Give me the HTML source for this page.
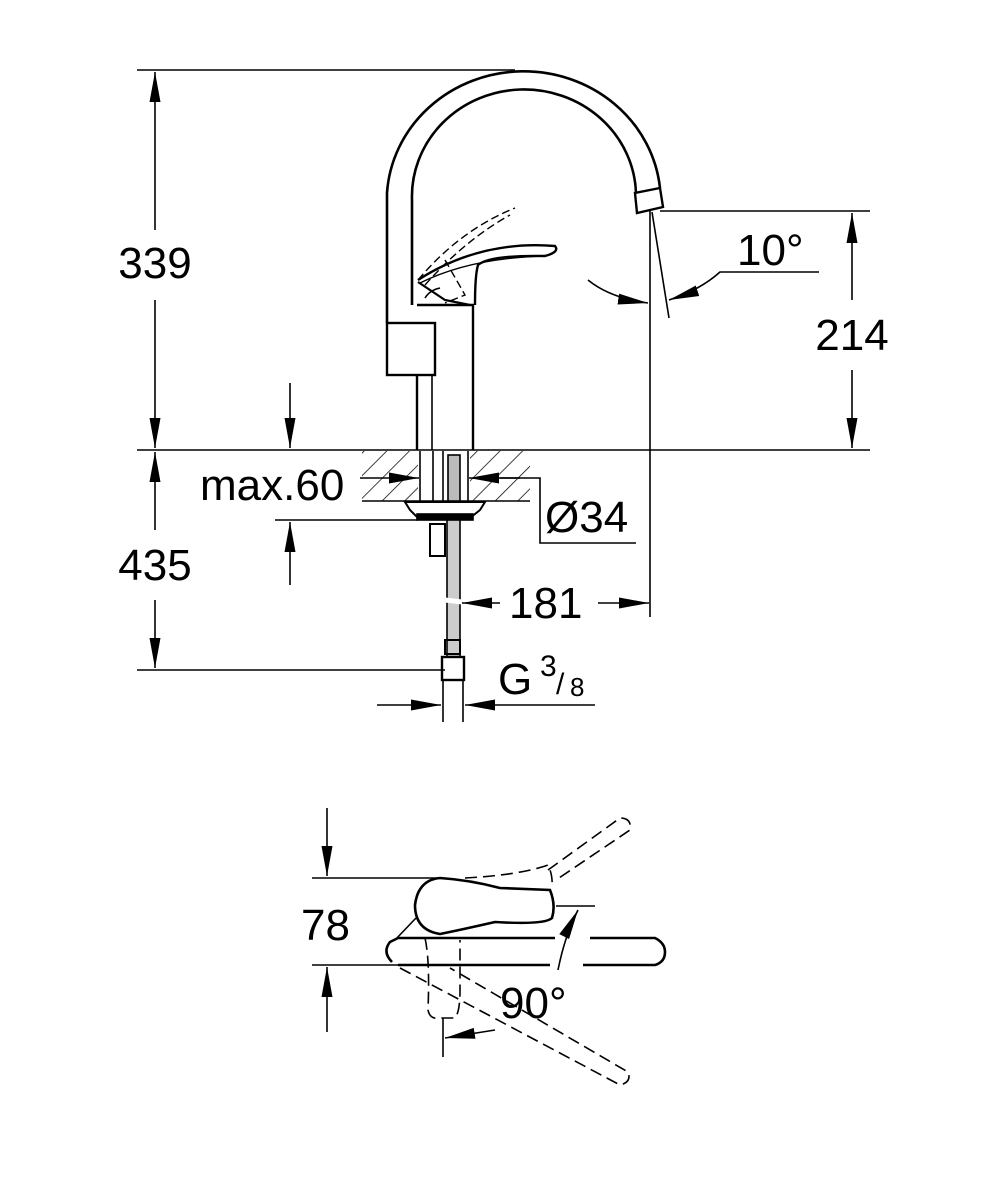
<!DOCTYPE html>
<html><head><meta charset="utf-8"><style>
html,body{margin:0;padding:0;background:#fff}
svg{display:block}
text{font-family:"Liberation Sans",sans-serif;fill:#000}
</style></head><body>
<svg width="1001" height="1200" viewBox="0 0 1001 1200" xmlns="http://www.w3.org/2000/svg">
<defs>
<marker id="a" markerWidth="32" markerHeight="12" refX="0" refY="0" orient="auto" viewBox="-30 -6 32 12" markerUnits="userSpaceOnUse"><path d="M0,0 L-30,-5.5 L-30,5.5 Z" fill="#000"/></marker>
<pattern id="h" width="16" height="16" patternUnits="userSpaceOnUse" patternTransform="rotate(45)"><line x1="0" y1="0" x2="0" y2="16" stroke="#000" stroke-width="1.5"/></pattern>
</defs>
<g fill="none" stroke="#000" stroke-width="1.6">
<line x1="137" y1="70" x2="515" y2="70"/>
<line x1="137" y1="450" x2="870" y2="450"/>
<line x1="137" y1="670" x2="445" y2="670"/>
<line x1="155" y1="230" x2="155" y2="72" marker-end="url(#a)"/>
<line x1="155" y1="300" x2="155" y2="448" marker-end="url(#a)"/>
<line x1="155" y1="530" x2="155" y2="452" marker-end="url(#a)"/>
<line x1="155" y1="600" x2="155" y2="668" marker-end="url(#a)"/>
<rect x="362" y="451" width="56" height="50" fill="url(#h)" stroke="none"/>
<rect x="470" y="451" width="60" height="50" fill="url(#h)" stroke="none"/>
<line x1="362" y1="501" x2="530" y2="501"/>
<path d="M387,323 L387,193 A137,130 0 0 1 660,188" stroke-width="2.6"/>
<path d="M412,305 L412,200 A112,107 0 0 1 636,193" stroke-width="2.6"/>
<path d="M635,193 L660,188 L663,207 L637,213 Z" stroke-width="2.4"/>
<rect x="387" y="323" width="48" height="52" stroke-width="2.4"/>
<line x1="417" y1="375" x2="417" y2="450" stroke-width="2.4"/>
<line x1="432" y1="375" x2="432" y2="450" stroke-width="1.6"/>
<path d="M417,305 L473,305 L473,450" stroke-width="2.4"/>
<path d="M418,280 Q480,240 555,246 Q560,252 545,256 Q490,255 478,265 Q475,275 475,305" stroke-width="2.4"/>
<path d="M420,283 Q470,258 545,256" stroke-width="1.4"/>
<path d="M418,282 L445,300 L470,305" stroke-width="2.2"/>
<path d="M425,298 Q430,290 440,288" stroke-width="1.6"/>
<path d="M418,280 Q460,230 515,208 M425,285 Q465,240 510,215 M445,260 L465,295 L445,303" stroke-width="1.4" stroke-dasharray="8,4"/>
<line x1="420" y1="451" x2="420" y2="501"/>
<line x1="468" y1="451" x2="468" y2="501"/>
<line x1="433" y1="451" x2="433" y2="501"/>
<line x1="443" y1="451" x2="443" y2="501"/>
<rect x="448" y="455" width="12" height="46" fill="#bbb"/>
<path d="M405,502 L485,502 L480,510 L470,518 L418,518 L410,510 Z" stroke-width="2"/>
<rect x="417" y="514" width="56" height="6" fill="#000"/>
<rect x="430" y="524" width="15" height="32" stroke-width="2"/>
<rect x="447" y="520" width="13" height="137" fill="#ccc" stroke-width="1.6"/>
<line x1="445" y1="600" x2="462" y2="602" stroke="#fff" stroke-width="5"/>
<rect x="445" y="640" width="15" height="14" stroke-width="2"/>
<rect x="442" y="657" width="22" height="23" stroke-width="2.4"/>
<line x1="443" y1="680" x2="443" y2="722"/>
<line x1="463" y1="680" x2="463" y2="722"/>
<line x1="290" y1="383" x2="290" y2="448" marker-end="url(#a)"/>
<line x1="290" y1="585" x2="290" y2="522" marker-end="url(#a)"/>
<line x1="275" y1="520" x2="418" y2="520"/>
<line x1="360" y1="478" x2="419" y2="478" marker-end="url(#a)"/>
<line x1="520" y1="478" x2="469" y2="478" marker-end="url(#a)"/>
<polyline points="500,478 540,478 540,543 636,543"/>
<line x1="500" y1="603" x2="462" y2="603" marker-end="url(#a)"/>
<line x1="598" y1="603" x2="649" y2="603" marker-end="url(#a)"/>
<line x1="377" y1="705" x2="441" y2="705" marker-end="url(#a)"/>
<line x1="595" y1="705" x2="465" y2="705" marker-end="url(#a)"/>
<line x1="650" y1="211" x2="650" y2="617"/>
<line x1="660" y1="211" x2="870" y2="211"/>
<line x1="652" y1="212" x2="669" y2="318"/>
<path d="M588,280 Q610,298 648,303" marker-end="url(#a)"/>
<path d="M819,272 L720,272 Q700,290 669,300" marker-end="url(#a)"/>
<line x1="852" y1="300" x2="852" y2="213" marker-end="url(#a)"/>
<line x1="852" y1="370" x2="852" y2="448" marker-end="url(#a)"/>
<line x1="327" y1="808" x2="327" y2="876" marker-end="url(#a)"/>
<line x1="327" y1="1032" x2="327" y2="967" marker-end="url(#a)"/>
<line x1="312" y1="878" x2="440" y2="878"/>
<line x1="312" y1="965" x2="400" y2="965"/>
<path d="M392,962 Q382,952 390,942 L398,938 L555,938 M590,938 L655,938 Q665,943 665,952 Q665,962 655,965 L583,965 M550,965 L398,965" stroke-width="2.6"/>
<path d="M440,934 Q415,930 415,905 Q418,880 440,878 Q470,880 500,888 L550,890 Q556,905 552,918 Q545,925 495,922 Q460,930 440,934 Z" stroke-width="2.6"/>
<line x1="556" y1="906" x2="595" y2="906"/>
<path d="M558,970 Q565,935 578,910" marker-end="url(#a)"/>
<path d="M395,940 L416,918" stroke-width="1.6"/>
<g stroke-dasharray="12,6" stroke-width="1.6">
<path d="M465,878 Q520,875 548,865 Q553,875 552,888"/>
<path d="M548,870 L620,818 Q632,818 630,830 L556,880"/>
<path d="M400,968 L620,1085 Q632,1082 628,1072 L450,968"/>
<path d="M425,938 Q430,960 428,1010 Q430,1020 440,1018 L455,1018 Q460,1012 460,990 L460,940"/>
</g>
<line x1="443" y1="1018" x2="443" y2="1057"/>
<line x1="495" y1="1030" x2="445" y2="1038" marker-end="url(#a)"/>
</g>
<g font-size="44">
<rect x="110" y="238" width="90" height="48" fill="#fff"/>
<text x="155" y="278" text-anchor="middle">339</text>
<rect x="110" y="540" width="90" height="48" fill="#fff"/>
<text x="155" y="580" text-anchor="middle">435</text>
<rect x="805" y="312" width="94" height="48" fill="#fff"/>
<text x="852" y="350" text-anchor="middle">214</text>
<text x="737" y="265">10°</text>
<text x="200" y="500">max.60</text>
<text x="545" y="532">Ø34</text>
<text x="509" y="618">181</text>
<text x="498" y="694">G</text>
<text x="540" y="676" font-size="30">3</text>
<text x="556" y="694" font-size="30">/</text>
<text x="570" y="696" font-size="26">8</text>
<text x="301" y="940">78</text>
<text x="500" y="1018">90°</text>
</g>
</svg>
</body></html>
